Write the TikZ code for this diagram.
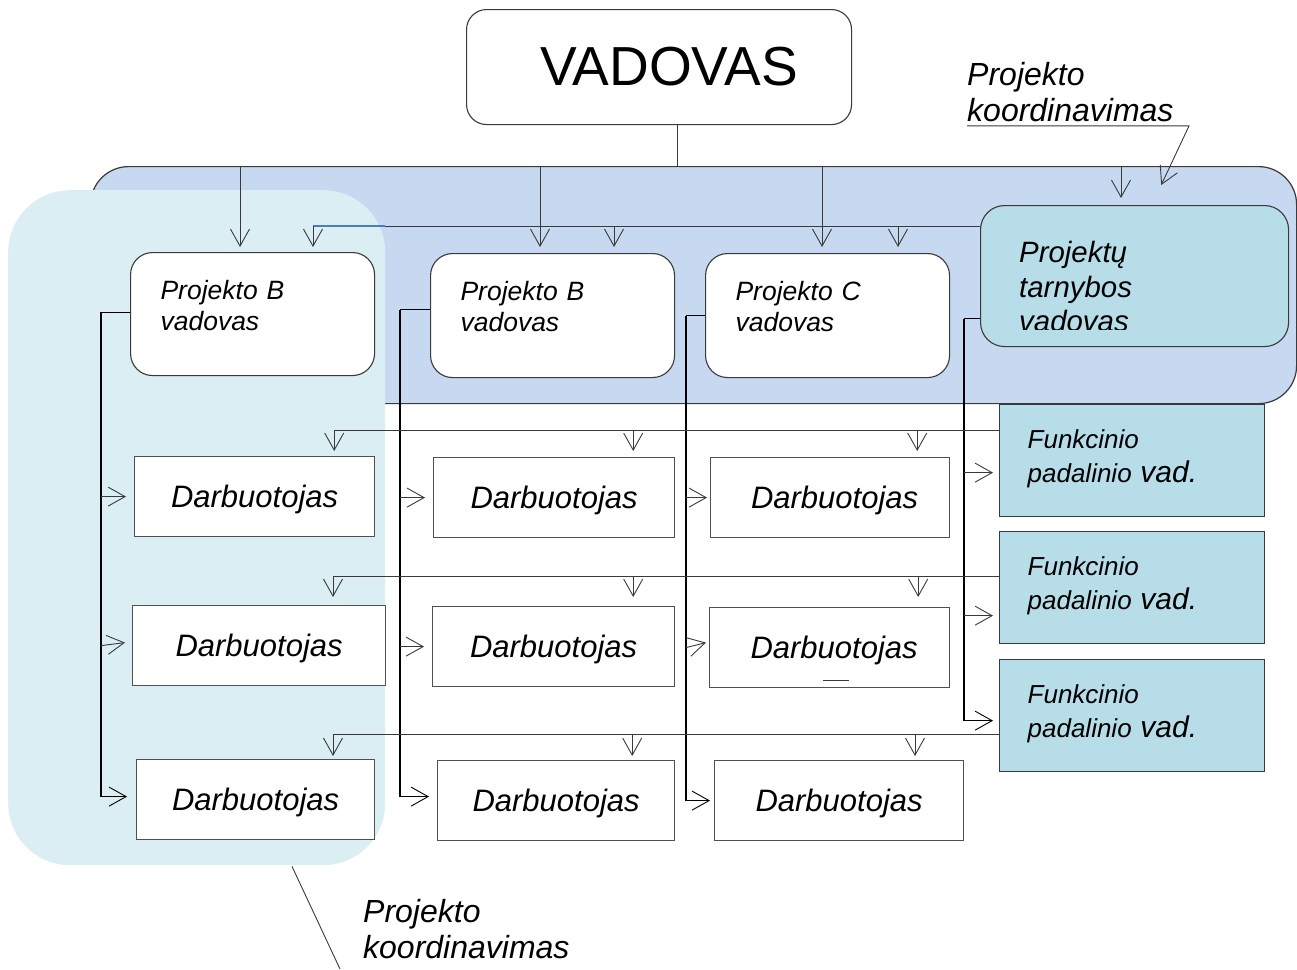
\documentclass[tikz,border=0pt]{standalone}
\usepackage{fontspec}
\setmainfont{Liberation Sans}
\usetikzlibrary{arrows.meta,calc}
\definecolor{areablue}{HTML}{C6D9F0}
\definecolor{colblue}{HTML}{DBEEF4}
\definecolor{tealbox}{HTML}{B7DDE8}
\definecolor{linecol}{HTML}{3A3A3A}
\definecolor{empcol}{HTML}{505050}
\definecolor{blueseg}{HTML}{4A7EBB}
\newcommand\mgrfont{\fontsize{26.5}{31}\selectfont\itshape}
\newcommand\empfont{\fontsize{31}{37}\selectfont\itshape}
\newcommand\funfont{\fontsize{26}{34}\selectfont\itshape}
\newcommand\vadfont{\fontsize{30}{34}\selectfont\itshape}
\newcommand\notefont{\fontsize{32}{36}\selectfont\itshape}
\newcommand\ptfont{\fontsize{29.4}{34.5}\selectfont\itshape}
\newcommand\bossfont{\fontsize{55}{60}\selectfont}
\begin{document}
\begin{tikzpicture}[x=1pt,y=-1pt,
  ln/.style={draw=linecol, line width=0.9pt},
  bus/.style={draw=black, line width=1.1pt},
  arr/.style={ln, -{Straight Barb[length=17pt,width=19pt]}},
  busarr/.style={bus, -{Straight Barb[length=17pt,width=19pt,line width=0.9pt]}},
  area/.style={draw=linecol, line width=1.2pt, fill=areablue, rounded corners=38pt, anchor=north west, inner sep=0pt},
  colbg/.style={fill=colblue, rounded corners=62pt, anchor=north west, inner sep=0pt},
  boss/.style={draw=linecol, line width=1.1pt, fill=white, rounded corners=20pt, anchor=north west, minimum width=385pt, minimum height=115pt, font=\bossfont, inner sep=0pt},
  mgr/.style={draw=linecol, line width=1.1pt, fill=white, rounded corners=22pt, anchor=north west, minimum width=244pt, text width=184pt, inner xsep=30pt, inner ysep=0pt, align=left, text height=47pt, font=\mgrfont},
  emp/.style={draw=empcol, line width=1.2pt, fill=white, anchor=north west, minimum height=80pt, inner sep=0pt, text height=51pt, text depth=29pt, font=\empfont},
  fun/.style={draw=linecol, line width=1.3pt, fill=tealbox, anchor=north west, minimum width=265pt, minimum height=112pt, text width=209pt, inner xsep=28pt, inner ysep=0pt, align=left, text height=44pt, text depth=68pt, font=\funfont},
  note/.style={anchor=north west, inner sep=0pt, align=left, font=\notefont}
]
\useasboundingbox (0,0) rectangle (1297,969);

% background areas
\node[area, minimum width=1206pt, minimum height=237pt] (pa) at (90,166) {};
\node[colbg, minimum width=377pt, minimum height=675pt] (pk) at (8,190) {};

% boxes
\node[boss] (vad) at (466,9) {\hspace{20pt}VADOVAS};

\node[mgr, text depth=76pt] (pb1) at (130,252) {Projekto B\\vadovas};
\node[mgr, text depth=77pt] (pb2) at (430,253) {Projekto B\\vadovas};
\node[mgr, text depth=77pt] (pc) at (705,253) {Projekto C\\vadovas};

\node[draw=linecol, line width=1.1pt, fill=tealbox, rounded corners=24pt, anchor=north west, minimum width=308pt, minimum height=141pt, inner sep=0pt] (pt) at (980,205) {};
\begin{scope}
  \clip (980,205) rectangle (1288,329);
  \node[anchor=north west, inner sep=0pt, align=left, font=\ptfont] (ptt) at (1019,241) {Projektų\\tarnybos\\vadovas};
\end{scope}

\node[emp, minimum width=240pt] (d11) at (134,456) {Darbuotojas};
\node[emp, minimum width=241pt] (d12) at (433,457) {Darbuotojas};
\node[emp, minimum width=239pt] (d13) at (710,457) {\hspace{9pt}Darbuotojas};
\node[emp, minimum width=253pt] (d21) at (132,605) {Darbuotojas\hspace{16pt}};
\node[emp, minimum width=242pt] (d22) at (432,606) {Darbuotojas};
\node[emp, minimum width=240pt] (d23) at (709,607) {\hspace{9pt}Darbuotojas};
\node[emp, minimum width=238pt] (d31) at (136,759) {Darbuotojas};
\node[emp, minimum width=237pt] (d32) at (437,760) {Darbuotojas};
\node[emp, minimum width=249pt] (d33) at (714,760) {Darbuotojas};
\draw[ln] ($(d23.south)+(-7,-8)$) -- ++(26,0);

\node[fun] (f1) at (999,404) {Funkcinio\\padalinio {\vadfont vad.}};
\node[fun] (f2) at (999,531) {Funkcinio\\padalinio {\vadfont vad.}};
\node[fun] (f3) at (999,659) {Funkcinio\\padalinio {\vadfont vad.}};

% VADOVAS to project area
\coordinate (v0) at ($(vad.south west)+(211,0)$);
\draw[ln] (v0) -- (v0 |- pa.north);

% arrows from the top of the area
\coordinate (t1) at ($(pb1.north west)+(110,-5)$);
\coordinate (t2) at ($(pb2.north west)+(110,-6)$);
\coordinate (t3) at ($(pc.north west)+(117,-6)$);
\coordinate (t4) at ($(pt.north west)+(141,-7)$);
\foreach \t in {t1,t2,t3,t4} \draw[arr] (pa.north -| \t) -- (\t);

% project service line
\coordinate (sb) at ($(pt.north west)+(0,21)$);
\coordinate (u1) at ($(pb1.north west)+(183,-5)$);
\coordinate (u2) at ($(pb2.north west)+(184,-6)$);
\coordinate (u3) at ($(pc.north west)+(193,-6)$);
\draw[ln] (sb) -- (sb -| u1);
\draw[blueseg, line width=1.5pt] (sb -| u1) -- (sb -| pk.east);
\foreach \u in {u1,u2,u3} \draw[arr] (sb -| \u) -- (\u);

% manager buses
\coordinate (b1) at ($(pb1.west)+(-29,-2)$);
\draw[bus] (pb1.west |- b1) -- (b1);
\draw[busarr] (b1) |- ($(d31.west)+(-9,-3)$);
\draw[arr] (b1 |- d11.west) -- ($(d11.west)+(-8,0)$);
\draw[arr] (b1 |- d21.west) -- ($(d21.west)+(-7,-3)$);

\coordinate (b2) at ($(pb2.west)+(-30,-6)$);
\draw[bus] (pb2.west |- b2) -- (b2);
\draw[busarr] (b2) |- ($(d32.west)+(-8,-4)$);
\draw[arr] (b2 |- d12.west) -- ($(d12.west)+(-8,0)$);
\draw[arr] (b2 |- d22.west) -- ($(d22.west)+(-8,0)$);

\coordinate (b3) at ($(pc.west)+(-19,0)$);
\draw[bus] (pc.west |- b3) -- (b3);
\draw[busarr] (b3) |- ($(d33.west)+(-4,0)$);
\draw[arr] (b3 |- d13.west) -- ($(d13.west)+(-3,0)$);
\draw[arr] (b3 |- d23.west) -- ($(d23.west)+(-3,-5)$);

\coordinate (b4) at ($(pt.west)+(-16,42.5)$);
\coordinate (fa1) at ($(f1.west)+(-6,12)$);
\coordinate (fa2) at ($(f2.west)+(-6,28)$);
\coordinate (fa3) at ($(f3.west)+(-6,5)$);
\draw[bus] (pt.west |- b4) -- (b4);
\draw[busarr] (b4) |- (fa3);
\draw[arr] (b4 |- fa1) -- (fa1);
\draw[arr] (b4 |- fa2) -- (fa2);

% functional lines
\coordinate (r1) at ($(f1.north west)+(0,26)$);
\coordinate (k11) at ($(d11.north east)+(-41,-5)$);
\coordinate (k12) at ($(d12.north east)+(-42,-6)$);
\coordinate (k13) at ($(d13.north east)+(-33,-6)$);
\draw[arr] (r1) -| (k11);
\draw[arr] (r1 -| k12) -- (k12);
\draw[arr] (r1 -| k13) -- (k13);

\coordinate (r2) at ($(f2.north west)+(0,45)$);
\coordinate (k21) at ($(d21.north west)+(201,-8)$);
\coordinate (k22) at ($(d22.north east)+(-42,-9)$);
\coordinate (k23) at ($(d23.north east)+(-32,-10)$);
\draw[arr] (r2) -| (k21);
\draw[arr] (r2 -| k22) -- (k22);
\draw[arr] (r2 -| k23) -- (k23);

\coordinate (r3) at ($(f3.north west)+(0,75)$);
\coordinate (k31) at ($(d31.north west)+(197,-3)$);
\coordinate (k32) at ($(d32.north east)+(-43,-4)$);
\coordinate (k33) at ($(d33.north west)+(201,-4)$);
\draw[arr] (r3) -| (k31);
\draw[arr] (r3 -| k32) -- (k32);
\draw[arr] (r3 -| k33) -- (k33);

% annotations
\node[note] (kn1) at (967,62) {Projekto\\koordinavimas};
\coordinate (kt) at ($(pa.north east)+(-136,19)$);
\draw[arr] ($(kn1.south west)+(0,4)$) -- ++(222,0) -- (kt);

\node[note] (kn2) at (363,899) {Projekto\\koordinavimas};
\coordinate (ke) at (340,969);
\draw[ln] ($(pk.south west)+(284,1)$) -- (ke);
\end{tikzpicture}
\end{document}
